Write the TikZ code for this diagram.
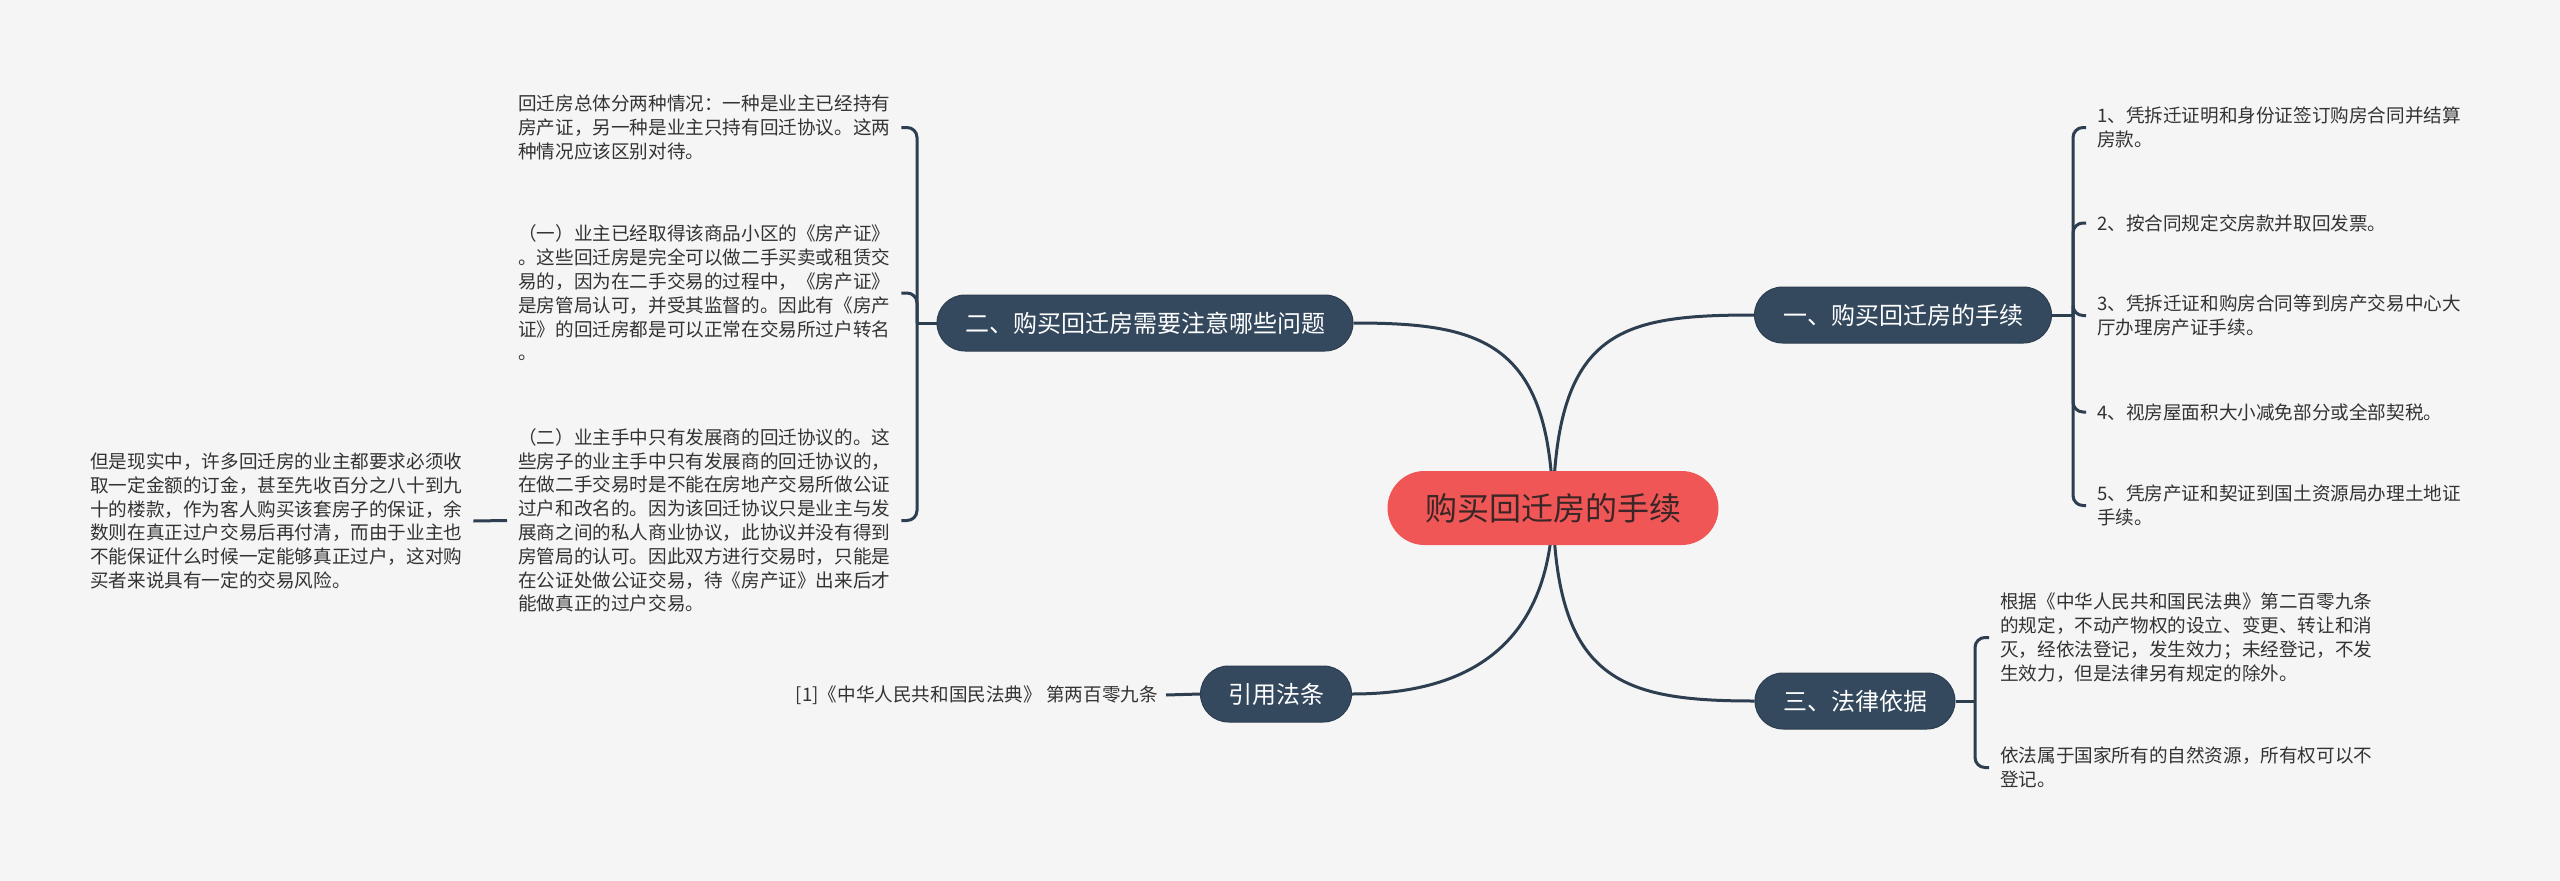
\documentclass[tikz,border=0pt]{standalone}
\usepackage{fontspec}
\setmainfont{Noto Sans CJK SC}
\definecolor{bgc}{HTML}{F5F5F5}
\definecolor{navy}{HTML}{34495E}
\definecolor{navyd}{HTML}{2C3E50}
\definecolor{linec}{HTML}{2C3E50}
\definecolor{redc}{HTML}{F05656}
\definecolor{redt}{HTML}{3A2626}
\definecolor{leafc}{HTML}{333333}
\pgfdeclarelayer{bglayer}
\pgfsetlayers{bglayer,main}
\begin{document}
\begin{tikzpicture}[x=1pt,y=-1pt,
  leaf/.style={inner xsep=11pt, inner ysep=0pt, align=left, text=leafc, font=\fontsize{18.6}{23.8}\selectfont},
  branch/.style={rectangle, rounded corners=28pt, fill=navy, draw=navyd, line width=1pt, text=white, minimum height=56pt, inner xsep=0pt, inner ysep=0pt, font=\fontsize{24}{28}\selectfont},
  centre/.style={rectangle, rounded corners=37pt, fill=redc, text=redt, minimum height=74pt, minimum width=331pt, inner xsep=0pt, font=\fontsize{32}{36}\selectfont},
  conn/.style={draw=linec, line width=3pt},
  brk/.style={draw=linec, line width=3pt, rounded corners=10pt},
]
% nodes
\node[centre] (C) at (1553,508) {购买回迁房的手续};
\node[branch, minimum width=297pt] (b1) at (1903,315) {一、购买回迁房的手续};
\node[branch, minimum width=416pt] (b2) at (1145,323) {二、购买回迁房需要注意哪些问题};
\node[branch, minimum width=200pt] (b3) at (1855,701) {三、法律依据};
\node[branch, minimum width=151pt] (b4) at (1276,694) {引用法条};

\node[leaf, anchor=west] (L1) at (507,127.5) {回迁房总体分两种情况：一种是业主已经持有\\房产证，另一种是业主只持有回迁协议。这两\\种情况应该区别对待。};
\node[leaf, anchor=west] (L2) at (507,293) {（一）业主已经取得该商品小区的《房产证》\\。这些回迁房是完全可以做二手买卖或租赁交\\易的，因为在二手交易的过程中，《房产证》\\是房管局认可，并受其监督的。因此有《房产\\证》的回迁房都是可以正常在交易所过户转名\\。};
\node[leaf, anchor=west] (L3) at (507,520.5) {（二）业主手中只有发展商的回迁协议的。这\\些房子的业主手中只有发展商的回迁协议的，\\在做二手交易时是不能在房地产交易所做公证\\过户和改名的。因为该回迁协议只是业主与发\\展商之间的私人商业协议，此协议并没有得到\\房管局的认可。因此双方进行交易时，只能是\\在公证处做公证交易，待《房产证》出来后才\\能做真正的过户交易。};
\node[leaf, anchor=west] (L4) at (79,521) {但是现实中，许多回迁房的业主都要求必须收\\取一定金额的订金，甚至先收百分之八十到九\\十的楼款，作为客人购买该套房子的保证，余\\数则在真正过户交易后再付清，而由于业主也\\不能保证什么时候一定能够真正过户，这对购\\买者来说具有一定的交易风险。};

\node[leaf, anchor=west] (R1) at (2086,127.5) {1、凭拆迁证明和身份证签订购房合同并结算\\房款。};
\node[leaf, anchor=west] (R2) at (2086,223) {2、按合同规定交房款并取回发票。};
\node[leaf, anchor=west] (R3) at (2086,315.5) {3、凭拆迁证和购房合同等到房产交易中心大\\厅办理房产证手续。};
\node[leaf, anchor=west] (R4) at (2086,412) {4、视房屋面积大小减免部分或全部契税。};
\node[leaf, anchor=west] (R5) at (2086,505.5) {5、凭房产证和契证到国土资源局办理土地证\\手续。};

\node[leaf, anchor=west] (R6) at (1989,637.5) {根据《中华人民共和国民法典》第二百零九条\\的规定，不动产物权的设立、变更、转让和消\\灭，经依法登记，发生效力；未经登记，不发\\生效力，但是法律另有规定的除外。};
\node[leaf, anchor=west] (R7) at (1989,767.5) {依法属于国家所有的自然资源，所有权可以不\\登记。};

\node[leaf, anchor=east, inner xsep=8pt] (ref) at (1166,695) {[1]《中华人民共和国民法典》 第两百零九条};

\coordinate (j1) at (2073,315);
\coordinate (j2) at (917,323);
\coordinate (j3) at (1975,701);

\begin{pgfonlayer}{bglayer}
\fill[bgc] (0,0) rectangle (2560,881);
\useasboundingbox (0,0) rectangle (2560,881);
% main curves
\draw[conn] (C.center) .. controls (1556,330) and (1620,315) .. (b1.west);
\draw[conn] (C.center) .. controls (1550,340) and (1480,323) .. (b2.east);
\draw[conn] (C.center) .. controls (1556,680) and (1620,701) .. (b3.west);
\draw[conn] (C.center) .. controls (1550,660) and (1450,694) .. (b4.east);
% brackets
\draw[conn] (b1.east) -- (j1);
\foreach \c in {R1,R2,R3,R4,R5} {\draw[brk] (j1) |- (\c.west);}
\draw[conn] (b2.west) -- (j2);
\foreach \c in {L1,L2,L3} {\draw[brk] (j2) |- (\c.east);}
\draw[conn] (L3.west) -- (L4.east);
\draw[conn] (b3.east) -- (j3);
\foreach \c in {R6,R7} {\draw[brk] (j3) |- (\c.west);}
\draw[conn] (b4.west) -- (ref.east);
\end{pgfonlayer}
\end{tikzpicture}
\end{document}
